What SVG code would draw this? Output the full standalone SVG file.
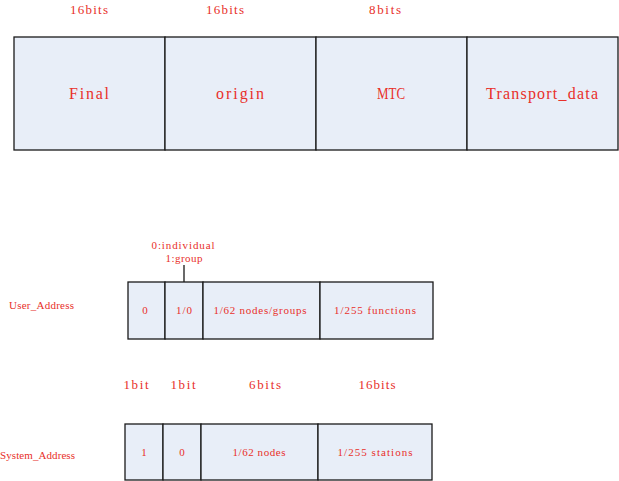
<svg xmlns="http://www.w3.org/2000/svg" width="619" height="481" viewBox="0 0 619 481">
<style>
.cell{fill:#e8eef8;stroke:#1a1a1a;stroke-width:1.3}
text{font-family:"Liberation Serif","Noto Sans CJK SC",serif;fill:#e8302a;text-anchor:middle}
.big{font-size:16px}
.lbl{font-size:13px}
.sm{font-size:11px}
.side{font-size:11px;text-anchor:start}
</style>
<rect width="619" height="481" fill="#fff"/>
<g id="labels-top">
<text class="lbl" x="89" y="14" textLength="38" lengthAdjust="spacing">16bits</text>
<text class="lbl" x="225" y="14" textLength="38" lengthAdjust="spacing">16bits</text>
<text class="lbl" x="385" y="14" textLength="32" lengthAdjust="spacing">8bits</text>
</g>
<g id="frame">
<g id="final"><rect class="cell" x="14" y="37" width="151" height="113"/><text class="big" x="89" y="99" textLength="40" lengthAdjust="spacing">Final</text></g>
<g id="origin"><rect class="cell" x="165" y="37" width="151" height="113"/><text class="big" x="240" y="99" textLength="48" lengthAdjust="spacing">origin</text></g>
<g id="mtc"><rect class="cell" x="316" y="37" width="151" height="113"/><text class="big" x="391" y="99" textLength="28" lengthAdjust="spacingAndGlyphs">MTC</text></g>
<g id="transport"><rect class="cell" x="467" y="37" width="151" height="113"/><text class="big" x="542" y="99" textLength="112" lengthAdjust="spacing">Transport_data</text></g>
</g>
<g id="user">
<text class="side" x="9" y="309" textLength="65" lengthAdjust="spacing">User_Address</text>
<text class="sm" x="183" y="249" textLength="63" lengthAdjust="spacing">0:individual</text>
<text class="sm" x="184" y="262" textLength="37" lengthAdjust="spacing">1:group</text>
<g id="connectors"><line x1="184" y1="265" x2="184" y2="282" stroke="#1a1a1a" stroke-width="1.3"/></g>
<g id="u0"><rect class="cell" x="128" y="282" width="37" height="57"/><text class="sm" x="145" y="314">0</text></g>
<g id="u1"><rect class="cell" x="165" y="282" width="38" height="57"/><text class="sm" x="184" y="314" textLength="16" lengthAdjust="spacing">1/0</text></g>
<g id="u2"><rect class="cell" x="203" y="282" width="117" height="57"/><text class="sm" x="260" y="314" textLength="93" lengthAdjust="spacing">1/62 nodes/groups</text></g>
<g id="u3"><rect class="cell" x="320" y="282" width="113" height="57"/><text class="sm" x="375" y="314" textLength="82" lengthAdjust="spacing">1/255 functions</text></g>
</g>
<g id="system">
<text class="lbl" x="136" y="389" textLength="25" lengthAdjust="spacing">1bit</text>
<text class="lbl" x="183" y="389" textLength="25" lengthAdjust="spacing">1bit</text>
<text class="lbl" x="265" y="389" textLength="32" lengthAdjust="spacing">6bits</text>
<text class="lbl" x="377" y="389" textLength="37" lengthAdjust="spacing">16bits</text>
<text class="side" x="0" y="459" textLength="75" lengthAdjust="spacing">System_Address</text>
<g id="s0"><rect class="cell" x="125" y="424" width="38" height="56"/><text class="sm" x="144" y="456">1</text></g>
<g id="s1"><rect class="cell" x="163" y="424" width="38" height="56"/><text class="sm" x="182" y="456">0</text></g>
<g id="s2"><rect class="cell" x="201" y="424" width="117" height="56"/><text class="sm" x="259" y="456" textLength="53" lengthAdjust="spacing">1/62 nodes</text></g>
<g id="s3"><rect class="cell" x="318" y="424" width="114" height="56"/><text class="sm" x="375" y="456" textLength="75" lengthAdjust="spacing">1/255 stations</text></g>
</g>
</svg>
